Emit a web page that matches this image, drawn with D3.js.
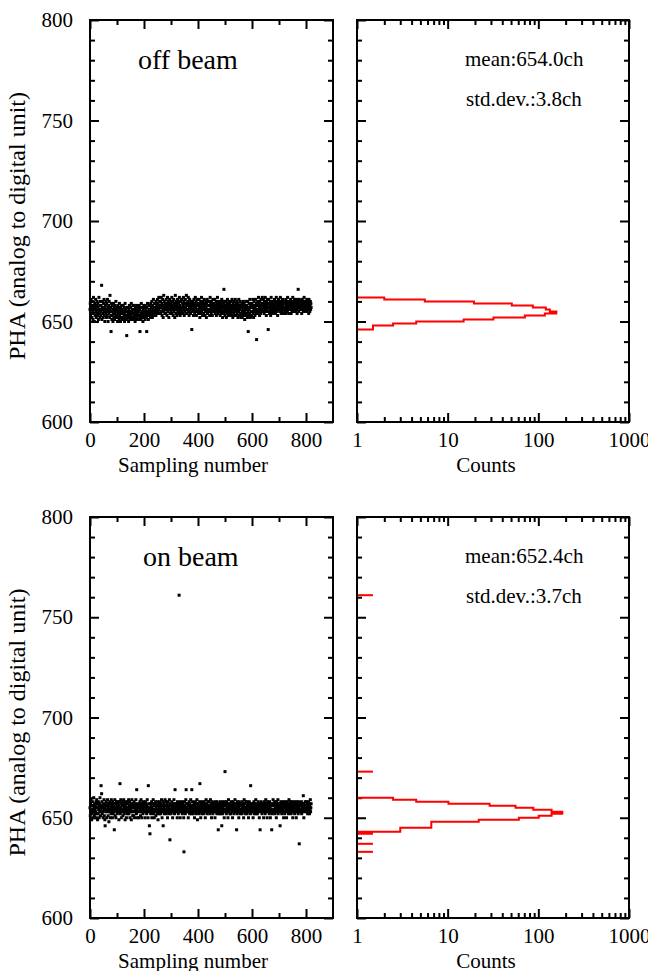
<!DOCTYPE html>
<html><head><meta charset="utf-8">
<script src="https://cdn.jsdelivr.net/npm/d3@7/dist/d3.min.js"></script>
<style>
body{margin:0;background:#fff}
svg{display:block}
text{font-family:"Liberation Serif","Times New Roman",serif;fill:#000}
</style>
</head><body>
<svg id="chart" width="648" height="971"></svg>
<script>
// ---------- DATA ----------
// PHA value per sampling number (index = sampling number), off beam
const offBeam = [
656,659,653,657,661,654,658,652,656,660,655,651,657,662,654,658,650,656,659,653,
657,661,655,652,658,654,660,656,653,659,657,651,655,662,656,654,658,652,660,655,
653,658,656,668,651,657,660,654,656,652,659,655,661,653,657,650,656,658,654,660,
655,652,659,656,653,661,657,650,655,658,654,660,656,652,663,655,657,653,645,659,
655,651,658,653,656,650,654,659,652,657,655,651,658,654,656,653,660,652,655,657,
653,656,650,658,654,652,657,655,651,659,653,656,654,650,657,652,655,658,651,654,
656,652,654,658,651,655,653,657,650,654,659,652,656,653,655,651,643,657,653,655,
652,657,654,650,656,653,658,651,655,654,652,657,653,659,651,655,654,656,652,658,
654,651,656,653,658,652,655,650,657,654,653,656,651,658,655,652,654,657,653,656,
651,655,658,653,656,645,652,657,654,651,659,653,655,652,657,654,650,656,653,658,
655,652,657,654,651,658,653,656,655,652,645,657,654,659,653,655,651,658,654,656,
653,658,655,656,652,659,654,657,653,660,655,652,658,656,654,661,653,657,655,659,
656,654,659,657,653,660,655,658,656,654,661,657,659,655,658,662,656,654,660,657,
657,660,654,658,662,655,659,653,657,661,656,652,658,663,655,660,657,654,659,656,
658,654,661,656,659,653,657,662,655,660,656,658,652,659,657,661,654,658,656,660,
655,659,657,662,654,658,656,660,653,657,661,655,659,656,652,658,663,657,654,660,
659,656,653,658,661,655,657,660,654,659,656,662,655,658,653,657,660,656,661,654,
657,661,655,659,654,658,662,656,660,653,657,659,655,661,657,654,658,663,656,659,
654,658,660,656,662,655,659,653,657,661,656,658,654,660,657,655,659,646,658,656,
660,655,658,653,657,661,656,659,654,658,662,655,657,660,653,658,656,661,655,659,
656,659,654,658,661,655,657,652,659,656,660,654,658,662,655,657,659,653,660,656,
658,654,657,661,656,659,653,658,655,660,657,652,659,656,661,654,658,656,660,655,
655,660,656,653,658,662,655,659,657,654,660,656,658,653,657,661,655,659,656,658,
659,655,661,657,654,658,656,660,653,657,659,655,662,656,658,654,660,657,655,659,
656,658,653,660,657,655,659,654,661,656,658,652,657,660,655,659,666,654,658,656,
653,657,660,655,658,652,656,659,654,661,657,655,658,653,660,656,654,659,657,655,
658,654,656,660,653,657,661,655,658,652,659,656,654,660,657,653,658,655,661,656,
655,659,653,657,660,654,658,656,652,659,655,661,657,653,658,656,660,654,657,652,
657,653,659,655,652,658,656,660,654,657,653,659,655,651,658,656,654,660,657,653,
654,658,656,652,660,655,645,657,653,659,656,654,661,657,652,658,655,659,653,657,
659,655,657,661,654,658,652,656,660,655,658,653,657,661,656,654,659,641,655,658,
656,660,654,658,662,655,659,657,653,660,656,658,654,661,657,655,659,656,662,658,
658,655,661,657,659,654,660,656,658,662,655,659,657,653,660,658,656,661,655,659,
646,657,661,655,659,654,658,656,660,653,657,662,655,659,656,658,654,660,657,655,
659,656,658,661,655,660,657,654,659,656,662,658,655,660,657,653,659,656,661,658,
656,660,657,655,659,662,656,658,654,660,657,659,655,661,658,656,660,654,659,657,
660,657,655,659,656,661,658,654,660,657,659,655,662,658,656,660,657,659,654,658,
657,659,656,661,658,654,660,657,655,659,656,662,658,660,655,657,659,656,661,658,
658,655,660,657,659,656,661,654,658,660,657,666,659,655,658,661,657,656,660,658,
656,660,657,659,654,658,661,656,659,657,655,660,658,662,656,659,657,655,660,658,
659,656,658,661,655,659,657,660,656,658,654,661,657,659,655,658,660,656,659,657
];
// PHA value per sampling number, on beam
const onBeam = [
655,651,657,653,659,654,649,656,652,658,654,650,656,653,660,655,651,657,654,652,
656,653,658,650,655,659,652,657,649,655,652,658,654,656,650,657,653,660,655,651,
654,666,656,662,658,652,655,653,657,650,656,654,659,651,655,649,646,657,653,656,
658,654,650,656,653,659,655,651,657,654,648,656,653,658,654,650,657,655,652,659,
653,656,654,650,658,655,652,657,653,656,644,654,659,651,655,657,650,654,658,653,
656,652,655,658,653,657,654,649,656,653,658,667,652,655,659,654,650,657,653,656,
654,658,651,656,653,659,655,652,657,654,649,656,658,653,655,650,657,654,652,658,
657,653,655,659,652,656,654,658,650,655,653,657,654,649,656,659,653,655,651,657,
653,656,651,658,655,650,657,654,656,653,659,655,652,664,654,657,650,656,653,655,
656,650,655,657,653,658,654,651,656,659,653,655,650,657,654,656,652,658,655,653,
654,657,653,656,650,658,655,653,657,654,652,656,659,653,655,650,666,654,657,653,
646,655,642,653,657,652,656,654,658,650,655,653,657,654,659,652,656,654,650,657,
653,656,654,658,651,655,657,653,656,652,658,654,649,656,653,657,655,652,658,654,
656,652,655,657,653,659,654,650,656,654,658,646,653,655,657,652,656,654,659,653,
654,658,652,656,653,655,657,650,654,658,653,656,652,655,659,654,639,657,653,656,
652,656,654,658,653,655,650,657,654,656,653,659,655,652,657,664,654,656,653,655,
657,653,655,650,658,654,656,652,657,654,761,655,653,658,650,656,654,657,653,655,
654,658,652,656,653,657,655,650,633,654,658,653,656,652,655,659,664,654,657,653,
655,653,657,654,650,656,653,658,654,652,657,655,653,659,654,656,652,664,655,653,
658,654,652,656,653,657,655,650,656,654,658,653,655,652,657,654,659,653,649,656,
653,657,655,652,656,654,658,667,653,655,650,657,654,656,652,658,655,653,657,654,
656,652,654,658,653,655,657,650,656,654,659,653,655,657,652,656,654,658,653,655,
654,658,653,656,652,655,659,654,657,653,650,656,654,658,655,652,657,653,656,654,
657,653,655,650,658,654,656,653,657,655,652,658,654,656,653,644,655,657,654,652,
653,656,654,658,652,655,653,657,646,654,656,652,658,655,653,657,654,650,656,658,
673,654,657,653,656,652,658,655,653,657,654,650,656,659,653,655,657,654,652,656,
656,652,655,658,654,657,653,656,650,655,658,654,656,652,657,655,653,659,654,656,
653,657,654,644,655,652,658,654,656,653,657,650,655,658,654,656,652,657,654,653,
657,654,656,652,658,655,653,657,654,650,656,659,653,655,657,654,652,658,655,653,
654,658,652,656,653,657,655,650,656,654,658,653,655,657,652,666,654,656,653,657,
655,653,657,654,650,656,654,658,652,655,657,653,656,654,659,652,655,657,653,656,
652,656,654,658,653,655,657,650,656,654,644,657,653,655,658,654,656,652,657,654,
656,653,655,650,657,654,658,653,656,652,655,659,654,657,653,656,650,655,658,654,
654,657,653,656,652,658,654,655,650,657,653,656,654,644,656,652,657,654,659,653,
657,653,656,654,658,652,655,657,653,656,650,658,654,656,653,655,659,652,657,654,
653,656,654,657,646,655,653,658,654,656,652,657,655,653,658,654,656,650,657,655,
656,652,655,658,653,657,654,656,650,655,658,653,656,654,657,652,655,659,653,656,
654,658,653,655,657,652,656,654,658,653,655,650,657,654,656,653,658,655,652,657,
657,653,656,654,650,658,655,653,657,654,656,652,658,655,653,637,656,654,657,653,
653,656,654,658,652,655,657,653,656,654,661,655,650,657,654,656,653,658,655,654,
656,654,658,653,655,657,652,656,654,658,653,655,657,652,656,654,659,653,655,657
];
// Histogram outlines (channel, drawn count)
const offHistCh = [662,661,660,659,658,657,656,655,654,653,652,651,650,649,648,647,646];
const offHistN  = [2,5.6,19.5,51,87,121,134,158,118,71,32,15,4.5,2.5,1.5,1.5,1.5];
const onHistCh  = [660,659,658,657,656,655,654,653,652,651,650,649,648,645,643,642];
const onHistN   = [2.5,4.5,10.2,29,56,88,140,184,140,101,61,22,6.6,3,1,1.5];
const onIsoCh   = [761,673,637,633];
const onIsoN    = [1.5,1.5,1.5,1.5];
// Ticks / labels
const phaMajor = [600,650,700,750,800];
const phaMinor = [610,620,630,640,660,670,680,690,710,720,730,740,760,770,780,790];
const sampMajor = [0,200,400,600,800];
const sampMinor = [100,300,500,700];
const cntMajor = [1,10,100,1000];
const cntMinor = [2,3,4,5,6,7,8,9,20,30,40,50,60,70,80,90,200,300,400,500,600,700,800,900];
const panelTexts = [
  {title:"off beam", mean:"mean:654.0ch", sd:"std.dev.:3.8ch"},
  {title:"on beam",  mean:"mean:652.4ch", sd:"std.dev.:3.7ch"}
];

// ---------- LAYOUT ----------
const svg = d3.select("#chart");
const FS = 21;
const xS = d3.scaleLinear().domain([0,900]).range([90,333]);
const xC = d3.scaleLog().domain([1,1000]).range([357,629]);
const panels = [
  {y: d3.scaleLinear().domain([600,800]).range([422,20]), data: offBeam, hc: offHistCh, hn: offHistN, ic: [], inn: []},
  {y: d3.scaleLinear().domain([600,800]).range([918,517]), data: onBeam, hc: onHistCh, hn: onHistN, ic: onIsoCh, inn: onIsoN}
];

function styleAxis(g){
  g.select(".domain").remove();
  g.selectAll(".tick line").attr("stroke","#000").attr("stroke-width",2);
  g.selectAll(".tick text").style("font-family",'"Liberation Serif",serif').style("font-size",FS+"px").attr("fill","#000");
}

panels.forEach((p,i)=>{
  const y = p.y;
  const [yb, yt] = y.range();
  // ----- left panel (scatter) -----
  const gl = svg.append("g");
  const [x0,x1] = xS.range();
  gl.append("g").attr("transform",`translate(${x0},0)`)
    .call(d3.axisLeft(y).tickValues(phaMajor).tickSize(-9).tickPadding(17).tickFormat(d3.format("d"))).call(styleAxis);
  gl.append("g").attr("transform",`translate(${x0},0)`)
    .call(d3.axisLeft(y).tickValues(phaMinor).tickSize(-5).tickFormat("")).call(styleAxis);
  gl.append("g").attr("transform",`translate(${x1},0)`)
    .call(d3.axisRight(y).tickValues(phaMajor).tickSize(-9).tickFormat("")).call(styleAxis);
  gl.append("g").attr("transform",`translate(${x1},0)`)
    .call(d3.axisRight(y).tickValues(phaMinor).tickSize(-5).tickFormat("")).call(styleAxis);
  gl.append("g").attr("transform",`translate(0,${yb})`)
    .call(d3.axisBottom(xS).tickValues(sampMajor).tickSize(-9).tickPadding(10).tickFormat(d3.format("d"))).call(styleAxis);
  gl.append("g").attr("transform",`translate(0,${yb})`)
    .call(d3.axisBottom(xS).tickValues(sampMinor).tickSize(-5).tickFormat("")).call(styleAxis);
  gl.append("g").attr("transform",`translate(0,${yt})`)
    .call(d3.axisTop(xS).tickValues(sampMajor).tickSize(-9).tickFormat("")).call(styleAxis);
  gl.append("g").attr("transform",`translate(0,${yt})`)
    .call(d3.axisTop(xS).tickValues(sampMinor).tickSize(-5).tickFormat("")).call(styleAxis);
  gl.append("g").selectAll("rect").data(p.data).join("rect")
    .attr("x",(d,k)=>xS(k)-1.5).attr("y",d=>y(d)-1.5).attr("width",3).attr("height",3).attr("fill","#000");
  gl.append("rect").attr("x",x0).attr("y",yt).attr("width",x1-x0).attr("height",yb-yt)
    .attr("fill","none").attr("stroke","#000").attr("stroke-width",2);

  // ----- right panel (histogram) -----
  const gr = svg.append("g");
  const [c0,c1] = xC.range();
  gr.append("g").attr("transform",`translate(${c0},0)`)
    .call(d3.axisLeft(y).tickValues(phaMajor).tickSize(-9).tickFormat("")).call(styleAxis);
  gr.append("g").attr("transform",`translate(${c0},0)`)
    .call(d3.axisLeft(y).tickValues(phaMinor).tickSize(-5).tickFormat("")).call(styleAxis);
  gr.append("g").attr("transform",`translate(${c1},0)`)
    .call(d3.axisRight(y).tickValues(phaMajor).tickSize(-9).tickFormat("")).call(styleAxis);
  gr.append("g").attr("transform",`translate(${c1},0)`)
    .call(d3.axisRight(y).tickValues(phaMinor).tickSize(-5).tickFormat("")).call(styleAxis);
  gr.append("g").attr("transform",`translate(0,${yb})`)
    .call(d3.axisBottom(xC).tickValues(cntMajor).tickSize(-9).tickPadding(10).tickFormat(d3.format("d"))).call(styleAxis);
  gr.append("g").attr("transform",`translate(0,${yb})`)
    .call(d3.axisBottom(xC).tickValues(cntMinor).tickSize(-5).tickFormat("")).call(styleAxis);
  gr.append("g").attr("transform",`translate(0,${yt})`)
    .call(d3.axisTop(xC).tickValues(cntMajor).tickSize(-9).tickFormat("")).call(styleAxis);
  gr.append("g").attr("transform",`translate(0,${yt})`)
    .call(d3.axisTop(xC).tickValues(cntMinor).tickSize(-5).tickFormat("")).call(styleAxis);
  const path = d3.path();
  path.moveTo(xC(1), y(p.hc[0]));
  path.lineTo(xC(p.hn[0]), y(p.hc[0]));
  for(let k=1;k<p.hc.length;k++){
    path.lineTo(xC(p.hn[k-1]), y(p.hc[k]));
    path.lineTo(xC(p.hn[k]), y(p.hc[k]));
  }
  path.lineTo(xC(1), y(p.hc[p.hc.length-1]));
  gr.append("path").attr("d",path.toString()).attr("fill","none").attr("stroke","#ff0000").attr("stroke-width",2);
  p.ic.forEach((c,k)=>{
    gr.append("line").attr("x1",xC(1)).attr("x2",xC(p.inn[k])).attr("y1",y(c)).attr("y2",y(c))
      .attr("stroke","#ff0000").attr("stroke-width",2);
  });
  gr.append("rect").attr("x",c0).attr("y",yt).attr("width",c1-c0).attr("height",yb-yt)
    .attr("fill","none").attr("stroke","#000").attr("stroke-width",2);

  // ----- texts -----
  const t = panelTexts[i];
  svg.append("text").attr("x",138+(i?5:0)).attr("y",yt+49).style("font-size","28px").text(t.title);
  svg.append("text").attr("x",465).attr("y",yt+46).style("font-size",FS+"px").text(t.mean);
  svg.append("text").attr("x",466).attr("y",yt+86).style("font-size",FS+"px").text(t.sd);
  svg.append("text").attr("x",193).attr("y",yb+50).attr("text-anchor","middle").style("font-size",FS+"px").text("Sampling number");
  svg.append("text").attr("x",486).attr("y",yb+50).attr("text-anchor","middle").style("font-size",FS+"px").text("Counts");
  svg.append("text").attr("transform",`translate(25,${(yt+yb)/2+5}) rotate(-90)`).attr("text-anchor","middle")
    .style("font-size","24px").text("PHA (analog to digital unit)");
});
</script>
</body></html>
